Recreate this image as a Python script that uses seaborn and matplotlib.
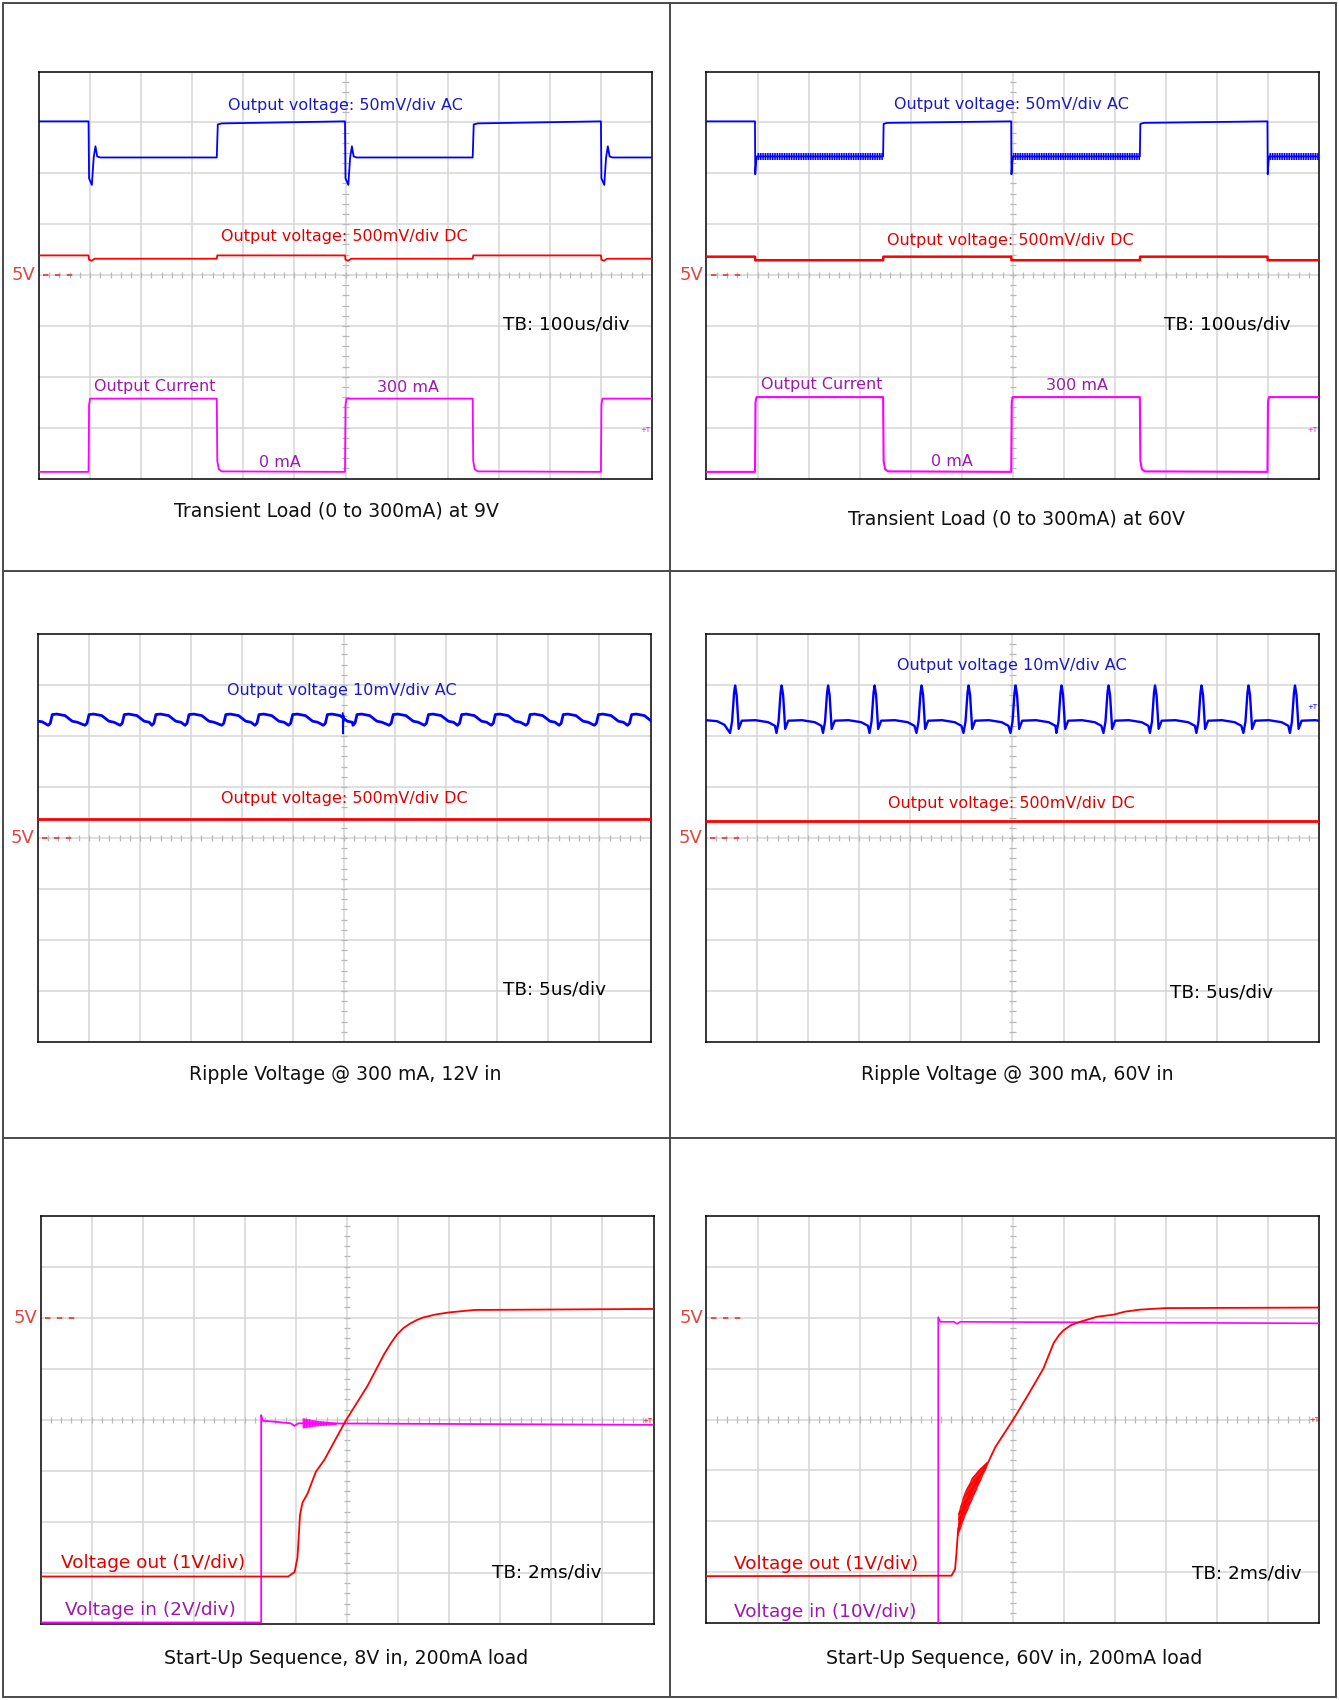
#Oscilloscope captures of the buck regulator: transient load, ripple and start-up
#Six scope screens (12 x 8 divisions) laid out in a bordered 2 x 3 table

import numpy as np
import matplotlib
matplotlib.use("Agg")
import matplotlib.pyplot as plt
import seaborn as sns
from matplotlib.lines import Line2D

# -----------------------------------------------------------
# Data (x: divisions 0-12, y: divisions 0-8 from bottom)
# -----------------------------------------------------------
# Transient load at 9V
P1_LOAD_ON = [0.97, 5.99, 11.0]
P1_LOAD_OFF = [3.48, 8.49]
P1_BLUE_ON_DX = [0, 0.01, 0.065, 0.10, 0.135, 0.17, 0.23]
P1_BLUE_ON_Y = [7.02, 5.90, 5.77, 6.30, 6.53, 6.33, 6.31]
P1_BLUE_OFF_DX = [0, 0.02, 0.10]
P1_BLUE_OFF_Y = [6.31, 6.96, 6.98]
P1_RED_ON_DX = [0, 0.01, 0.06, 0.12]
P1_RED_ON_Y = [4.385, 4.30, 4.28, 4.32]
P1_RED_OFF_DX = [0, 0.01]
P1_RED_OFF_Y = [4.32, 4.385]
P1_MAG_ON_DX = [0, 0.01, 0.03]
P1_MAG_ON_Y = [0.13, 1.45, 1.57]
P1_MAG_OFF_DX = [0, 0.01, 0.04, 0.10]
P1_MAG_OFF_Y = [1.57, 0.35, 0.18, 0.14]

# Transient load at 60V
P2_LOAD_ON = [0.95, 5.97, 10.99]
P2_LOAD_OFF = [3.46, 8.49]
P2_BLUE_ON_DX = [0, 0.005, 0.02, 0.03]
P2_BLUE_ON_Y = [7.02, 5.98, 6.20, 6.33]
P2_BLUE_OFF_DX = [0, 0.01, 0.08]
P2_BLUE_OFF_Y = [6.33, 6.97, 6.99]
P2_BLUE_RIPPLE = [6.26, 6.40]          # band of switching ripple while loaded
P2_RED_ON_DX = [0, 0.005]
P2_RED_ON_Y = [4.36, 4.29]
P2_RED_OFF_DX = [0, 0.005]
P2_RED_OFF_Y = [4.29, 4.36]
P2_MAG_ON_DX = [0, 0.01, 0.03]
P2_MAG_ON_Y = [0.13, 1.50, 1.60]
P2_MAG_OFF_DX = [0, 0.01, 0.04, 0.10]
P2_MAG_OFF_Y = [1.60, 0.35, 0.18, 0.14]

# Ripple at 12V in
P3_LEAD_X = [0, 0.08]
P3_LEAD_Y = [6.29, 6.28]
P3_RISES = [0.25, 0.97, 1.66, 2.28, 2.93, 3.65, 4.30, 4.96, 5.64,
            6.22, 6.93, 7.62, 8.27, 8.93, 9.61, 10.26, 10.95, 11.60]
P3_CYCLE_DX = [-0.05, -0.01, 0.03, 0.12, 0.28, 0.42, 0.52]
P3_CYCLE_Y = [6.21, 6.25, 6.42, 6.43, 6.40, 6.29, 6.27]
P3_GLITCH_X = [5.97, 5.975, 5.985, 5.995]
P3_GLITCH_Y = [6.45, 6.05, 6.40, 6.30]
P3_RED = 4.37

# Ripple at 60V in
P4_LEAD_X = [0, 0.22, 0.36]
P4_LEAD_Y = [6.31, 6.29, 6.22]
P4_PEAKS = [0.57, 1.48, 2.39, 3.30, 4.22, 5.14, 6.06, 6.96, 7.88, 8.79, 9.70, 10.62, 11.53]
P4_CYCLE_DX = [-0.10, -0.06, -0.02, 0.0, 0.03, 0.07, 0.13, 0.40, 0.65, 0.78]
P4_CYCLE_Y = [6.06, 6.28, 6.85, 6.99, 6.80, 6.14, 6.30, 6.31, 6.27, 6.20]
P4_RED = 4.34

# Start-up, 8V in
P5_VOUT_X = [0, 4.85, 4.975, 5.03, 5.06, 5.08, 5.13, 5.23, 5.39, 5.56, 5.81, 5.98, 6.40, 6.73,
             6.86, 6.98, 7.11, 7.23, 7.36, 7.48, 7.73, 7.98, 8.49, 12]
P5_VOUT_Y = [0.93, 0.93, 1.02, 1.30, 1.79, 2.14, 2.38, 2.56, 2.98, 3.22, 3.68, 3.99, 4.66, 5.29,
             5.50, 5.67, 5.80, 5.88, 5.95, 6.00, 6.06, 6.10, 6.15, 6.17]
P5_VIN_X = [0, 4.32, 4.32, 4.35, 4.60, 4.90, 4.97, 5.05, 5.13, 12]
P5_VIN_Y = [0.03, 0.03, 4.09, 3.98, 3.96, 3.93, 3.88, 3.93, 3.93, 3.90]
P5_VIN_RING_X = [5.13, 5.40, 5.80]
P5_VIN_RING_HI = [4.03, 3.98, 3.94]
P5_VIN_RING_LO = [3.83, 3.87, 3.90]

# Start-up, 60V in
P6_VOUT_X = [0, 4.80, 4.87, 4.90, 4.93, 5.05, 5.20, 5.35, 5.50, 5.66, 6.01, 6.31, 6.60, 6.80,
             6.90, 6.99, 7.15, 7.32, 7.65, 7.97, 8.20, 8.50, 9.00, 12]
P6_VOUT_Y = [0.92, 0.93, 1.06, 1.41, 1.85, 2.30, 2.62, 2.88, 3.12, 3.46, 4.00, 4.50, 5.00, 5.50,
             5.65, 5.75, 5.86, 5.92, 6.02, 6.06, 6.12, 6.16, 6.19, 6.20]
P6_VOUT_RING_X = [4.93, 5.05, 5.20, 5.35, 5.50]
P6_VOUT_RING_HI = [2.15, 2.55, 2.85, 3.03, 3.17]
P6_VOUT_RING_LO = [1.70, 2.05, 2.40, 2.74, 3.07]
P6_VIN_X = [0, 4.54, 4.54, 4.58, 4.85, 4.91, 4.97, 12]
P6_VIN_Y = [-0.05, -0.05, 6.01, 5.92, 5.92, 5.88, 5.92, 5.89]

CAPTIONS = [
    "Transient Load (0 to 300mA) at 9V",
    "Transient Load (0 to 300mA) at 60V",
    "Ripple Voltage @ 300 mA, 12V in",
    "Ripple Voltage @ 300 mA, 60V in",
    "Start-Up Sequence, 8V in, 200mA load",
    "Start-Up Sequence, 60V in, 200mA load",
]

# -----------------------------------------------------------
# Layout / style
# -----------------------------------------------------------
W, H = 1339, 1700
BOXES = [  # scope screen, pixel coords (x0, y0, x1, y1)
    (39, 71.5, 652, 478.5),
    (706.5, 71.5, 1319, 478.5),
    (38, 634, 650.5, 1042),
    (706, 634, 1319, 1042),
    (40.5, 1215.5, 653.5, 1624),
    (706.5, 1216, 1319, 1623),
]
CAPTION_POS = [(336, 511), (1016, 519), (345, 1074), (1017, 1074), (346, 1658), (1014, 1658)]

BLUE, RED, MAG = "#0000ff", "#ff0000", "#ff00ff"
BLUE_TXT, RED_TXT, MAG_TXT = "#1a1ac4", "#e00000", "#9c18b0"
FIVE_V = "#e2453f"
GRID = "#d6d6d6"

sns.set_style("white")
plt.rcParams["font.family"] = ["DejaVu Sans"]


def build_trace(lead_x, lead_y, events):
    # lead points, then events: (time, dx list, y list) -> one polyline
    xs, ys = list(lead_x), list(lead_y)
    for t, dx, yy in sorted(events, key=lambda e: e[0]):
        xs.extend(t + d for d in dx)
        ys.extend(yy)
    if xs[-1] < 12:
        xs.append(12.0)
        ys.append(ys[-1])
    return np.array(xs), np.array(ys)


def trace(ax, x, y, color, lw=1.3):
    sns.lineplot(x=x, y=y, ax=ax, color=color, linewidth=lw, sort=False,
                 estimator=None, legend=False, zorder=3)


def graticule(ax):
    ax.set_xlim(0, 12)
    ax.set_ylim(0, 8)
    ax.set_xticks([])
    ax.set_yticks([])
    for x in range(1, 12):
        ax.axvline(x, color=GRID, lw=1.1, zorder=0)
    for y in range(1, 8):
        ax.axhline(y, color=GRID, lw=1.1, zorder=0)
    ax.vlines(np.arange(0.2, 12, 0.2), 3.94, 4.06, color="#b8b8b8", lw=0.9, zorder=0)
    ax.hlines(np.arange(0.2, 8, 0.2), 5.94, 6.06, color="#b8b8b8", lw=0.9, zorder=0)
    for s in ax.spines.values():
        s.set_color("black")
        s.set_linewidth(1.1)
        s.set_visible(True)
        s.set_zorder(2.5)


def five_volt(ax, y):
    ax.text(-0.06, y, "5V", ha="right", va="center", color=FIVE_V, fontsize=13, clip_on=False)
    ax.plot([0.08, 0.74], [y, y], color=FIVE_V, lw=1.3, dashes=(3, 3.6), zorder=3)


def label(ax, x, y, s, color, size=11.5, ha="center"):
    ax.text(x, y, s, ha=ha, va="center", color=color, fontsize=size, zorder=4)


def events_for(on, off, on_dx, on_y, off_dx, off_y):
    return [(t, on_dx, on_y) for t in on] + [(t, off_dx, off_y) for t in off]


fig = plt.figure(figsize=(W / 100, H / 100), dpi=100)
axes = []
for (x0, y0, x1, y1) in BOXES:
    ax = fig.add_axes([x0 / W, 1 - y1 / H, (x1 - x0) / W, (y1 - y0) / H])
    graticule(ax)
    axes.append(ax)

# ----- Panel 1 -----
ax = axes[0]
x, y = build_trace([0], [P1_BLUE_ON_Y[0]], events_for(P1_LOAD_ON, P1_LOAD_OFF, P1_BLUE_ON_DX, P1_BLUE_ON_Y, P1_BLUE_OFF_DX, P1_BLUE_OFF_Y))
trace(ax, x, y, BLUE)
x, y = build_trace([0], [P1_RED_ON_Y[0]], events_for(P1_LOAD_ON, P1_LOAD_OFF, P1_RED_ON_DX, P1_RED_ON_Y, P1_RED_OFF_DX, P1_RED_OFF_Y))
trace(ax, x, y, RED)
x, y = build_trace([0], [P1_MAG_ON_Y[0]], events_for(P1_LOAD_ON, P1_LOAD_OFF, P1_MAG_ON_DX, P1_MAG_ON_Y, P1_MAG_OFF_DX, P1_MAG_OFF_Y))
trace(ax, x, y, MAG)
label(ax, 6.0, 7.34, "Output voltage: 50mV/div AC", BLUE_TXT)
label(ax, 5.98, 4.76, "Output voltage: 500mV/div DC", RED_TXT)
label(ax, 10.32, 3.03, "TB: 100us/div", "black", 13.3)
label(ax, 2.27, 1.80, "Output Current", MAG_TXT)
label(ax, 7.23, 1.78, "300 mA", MAG_TXT)
label(ax, 4.72, 0.31, "0 mA", MAG_TXT)
label(ax, 11.87, 0.96, "+T", MAG, 5)
five_volt(ax, 4.0)

# ----- Panel 2 -----
ax = axes[1]
x, y = build_trace([0], [P2_BLUE_ON_Y[0]], events_for(P2_LOAD_ON, P2_LOAD_OFF, P2_BLUE_ON_DX, P2_BLUE_ON_Y, P2_BLUE_OFF_DX, P2_BLUE_OFF_Y))
trace(ax, x, y, BLUE)
for t_on, t_off in zip(P2_LOAD_ON, P2_LOAD_OFF + [12.0]):
    ax.fill_between([t_on + 0.03, t_off], P2_BLUE_RIPPLE[0], P2_BLUE_RIPPLE[1],
                    facecolor=(0, 0, 1, 0.3), edgecolor=BLUE, hatch="|||||||", linewidth=0, zorder=3)
x, y = build_trace([0], [P2_RED_ON_Y[0]], events_for(P2_LOAD_ON, P2_LOAD_OFF, P2_RED_ON_DX, P2_RED_ON_Y, P2_RED_OFF_DX, P2_RED_OFF_Y))
trace(ax, x, y, RED, 1.8)
x, y = build_trace([0], [P2_MAG_ON_Y[0]], events_for(P2_LOAD_ON, P2_LOAD_OFF, P2_MAG_ON_DX, P2_MAG_ON_Y, P2_MAG_OFF_DX, P2_MAG_OFF_Y))
trace(ax, x, y, MAG, 1.5)
label(ax, 5.97, 7.35, "Output voltage: 50mV/div AC", BLUE_TXT)
label(ax, 5.95, 4.68, "Output voltage: 500mV/div DC", RED_TXT)
label(ax, 10.2, 3.03, "TB: 100us/div", "black", 13.3)
label(ax, 2.26, 1.84, "Output Current", MAG_TXT)
label(ax, 7.26, 1.82, "300 mA", MAG_TXT)
label(ax, 4.80, 0.34, "0 mA", MAG_TXT)
label(ax, 11.87, 0.95, "+T", MAG, 5)
five_volt(ax, 4.0)

# ----- Panel 3 -----
ax = axes[2]
x, y = build_trace(P3_LEAD_X, P3_LEAD_Y, [(t, P3_CYCLE_DX, P3_CYCLE_Y) for t in P3_RISES])
trace(ax, x, y, BLUE, 2.0)
trace(ax, P3_GLITCH_X, P3_GLITCH_Y, BLUE, 1.3)
trace(ax, [0, 12], [P3_RED, P3_RED], RED, 2.0)
label(ax, 5.96, 6.89, "Output voltage 10mV/div AC", BLUE_TXT)
label(ax, 6.0, 4.77, "Output voltage: 500mV/div DC", RED_TXT)
label(ax, 10.13, 1.02, "TB: 5us/div", "black", 13.3)
five_volt(ax, 4.0)

# ----- Panel 4 -----
ax = axes[3]
x, y = build_trace(P4_LEAD_X, P4_LEAD_Y, [(t, P4_CYCLE_DX, P4_CYCLE_Y) for t in P4_PEAKS])
trace(ax, x, y, BLUE, 1.7)
trace(ax, [0, 12], [P4_RED, P4_RED], RED, 2.0)
label(ax, 5.98, 7.39, "Output voltage 10mV/div AC", BLUE_TXT)
label(ax, 5.98, 4.68, "Output voltage: 500mV/div DC", RED_TXT)
label(ax, 10.1, 0.98, "TB: 5us/div", "black", 13.3)
label(ax, 11.87, 6.57, "+T", BLUE, 5)
five_volt(ax, 4.0)

# ----- Panel 5 -----
ax = axes[4]
trace(ax, P5_VIN_X, P5_VIN_Y, MAG, 1.3)
ax.fill_between(P5_VIN_RING_X, P5_VIN_RING_LO, P5_VIN_RING_HI, facecolor=(1, 0, 1, 0.85),
                edgecolor=MAG, hatch="||||||", linewidth=0, zorder=3)
trace(ax, P5_VOUT_X, P5_VOUT_Y, RED, 1.3)
label(ax, 0.40, 1.20, "Voltage out (1V/div)", RED_TXT, 13.3, "left")
label(ax, 0.48, 0.27, "Voltage in (2V/div)", MAG_TXT, 13.3, "left")
label(ax, 9.92, 1.00, "TB: 2ms/div", "black", 13.3)
label(ax, 11.87, 3.97, "+T", RED, 5)
five_volt(ax, 6.0)

# ----- Panel 6 -----
ax = axes[5]
trace(ax, P6_VIN_X, P6_VIN_Y, MAG, 1.2)
trace(ax, P6_VOUT_X, P6_VOUT_Y, RED, 1.3)
ax.fill_between(P6_VOUT_RING_X, P6_VOUT_RING_LO, P6_VOUT_RING_HI, facecolor=(1, 0, 0, 0.9),
                edgecolor=RED, hatch="//////", linewidth=0, zorder=3)
label(ax, 0.535, 1.15, "Voltage out (1V/div)", RED_TXT, 13.3, "left")
label(ax, 0.535, 0.21, "Voltage in (10V/div)", MAG_TXT, 13.3, "left")
label(ax, 10.59, 0.97, "TB: 2ms/div", "black", 13.3)
label(ax, 11.9, 4.0, "+T", RED, 5)
five_volt(ax, 6.0)

# Captions under each screen
for (cx, cy), text in zip(CAPTION_POS, CAPTIONS):
    fig.text(cx / W, 1 - cy / H, text, ha="center", va="center", fontsize=13.6, color="#111111")

# Table borders
BORDER = "#4a4a4a"
segments = [
    ((3, 3), (1336, 3)), ((3, 1697), (1336, 1697)),
    ((3, 3), (3, 1697)), ((1336, 3), (1336, 1697)),
    ((670, 3), (670, 1697)),
    ((3, 571), (1336, 571)), ((3, 1138), (1336, 1138)),
]
for (xa, ya), (xb, yb) in segments:
    fig.add_artist(Line2D([xa / W, xb / W], [1 - ya / H, 1 - yb / H],
                          transform=fig.transFigure, color=BORDER, lw=1.4))

plt.savefig("out.png", dpi=100)
